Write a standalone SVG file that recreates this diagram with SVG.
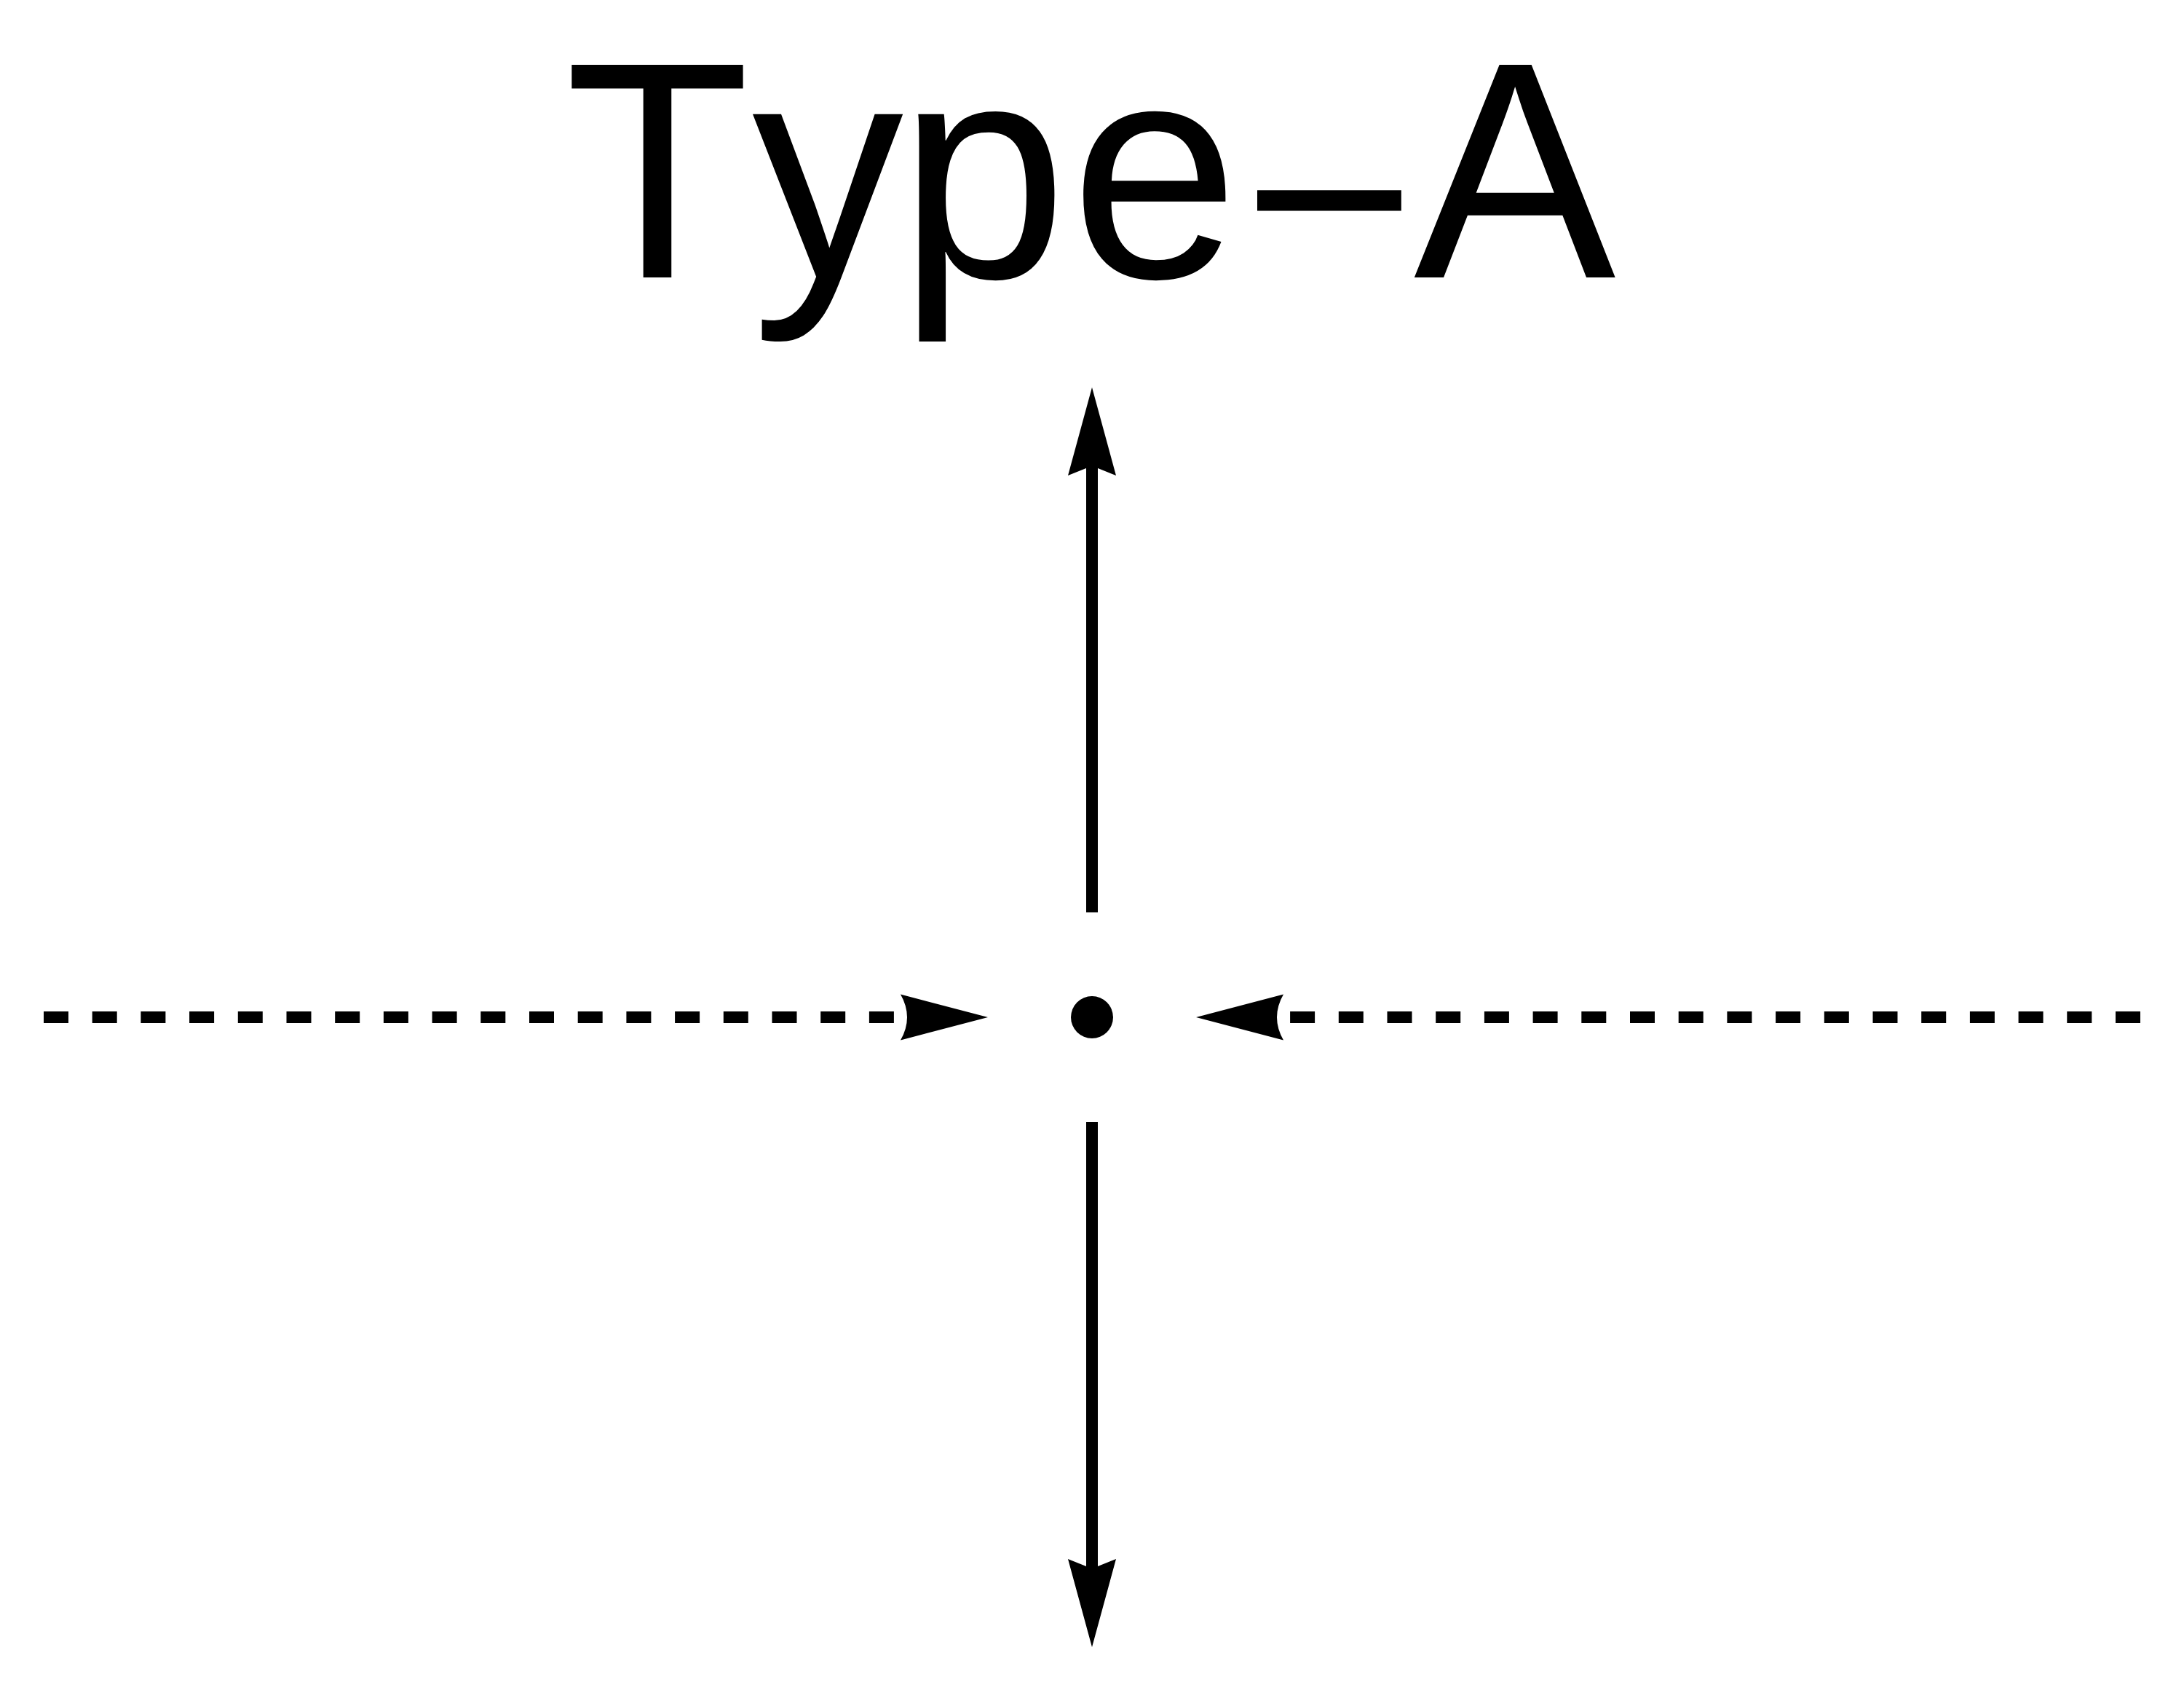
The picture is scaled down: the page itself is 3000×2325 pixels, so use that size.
<svg xmlns="http://www.w3.org/2000/svg" xmlns:xlink="http://www.w3.org/1999/xlink" width="3000" height="2325" viewBox="0 0 3000 2325">
  <style>
    .title { font-family: "Liberation Sans", Arial, sans-serif; font-size: 416px; fill: #000; }
    .solid { stroke: #000; stroke-width: 16; fill: none; }
    .dotted { stroke: #000; stroke-width: 16; fill: none; stroke-dasharray: 34 32.7; }
    .head { fill: #000; stroke: none; }
  </style>
  <defs>
    <path id="headV" d="M0,0 L33,121 L8,111 L-8,111 L-33,121 Z"/>
    <path id="headH" d="M0,0 L-120,-31.5 Q-102,0 -120,31.5 Z"/>
  </defs>
  <rect width="3000" height="2325" fill="#fff"/>
  <g id="title">
    <text class="title" transform="translate(0,381) scale(1,1.02) translate(0,-381)" y="381"><tspan x="776 1033 1234.5 1470.5">Type</tspan><tspan x="1727" dy="2" textLength="198" lengthAdjust="spacingAndGlyphs">–</tspan><tspan x="1942" dy="-2">A</tspan></text>
  </g>
  <g id="center-dot">
    <circle cx="1500" cy="1397" r="29" fill="#000"/>
  </g>
  <g id="connectors">
    <g id="up-arrow">
      <line class="solid" x1="1500" y1="1253" x2="1500" y2="640"/>
      <use class="head" xlink:href="#headV" href="#headV" transform="translate(1500,532)"/>
    </g>
    <g id="down-arrow">
      <line class="solid" x1="1500" y1="1541" x2="1500" y2="2154"/>
      <use class="head" xlink:href="#headV" href="#headV" transform="translate(1500,2262) rotate(180)"/>
    </g>
    <g id="left-arrow">
      <line class="dotted" x1="60" y1="1397" x2="1228" y2="1397"/>
      <use class="head" xlink:href="#headH" href="#headH" transform="translate(1357,1397)"/>
    </g>
    <g id="right-arrow">
      <line class="dotted" x1="2940" y1="1397" x2="1772" y2="1397"/>
      <use class="head" xlink:href="#headH" href="#headH" transform="translate(1643,1397) rotate(180)"/>
    </g>
  </g>
</svg>
